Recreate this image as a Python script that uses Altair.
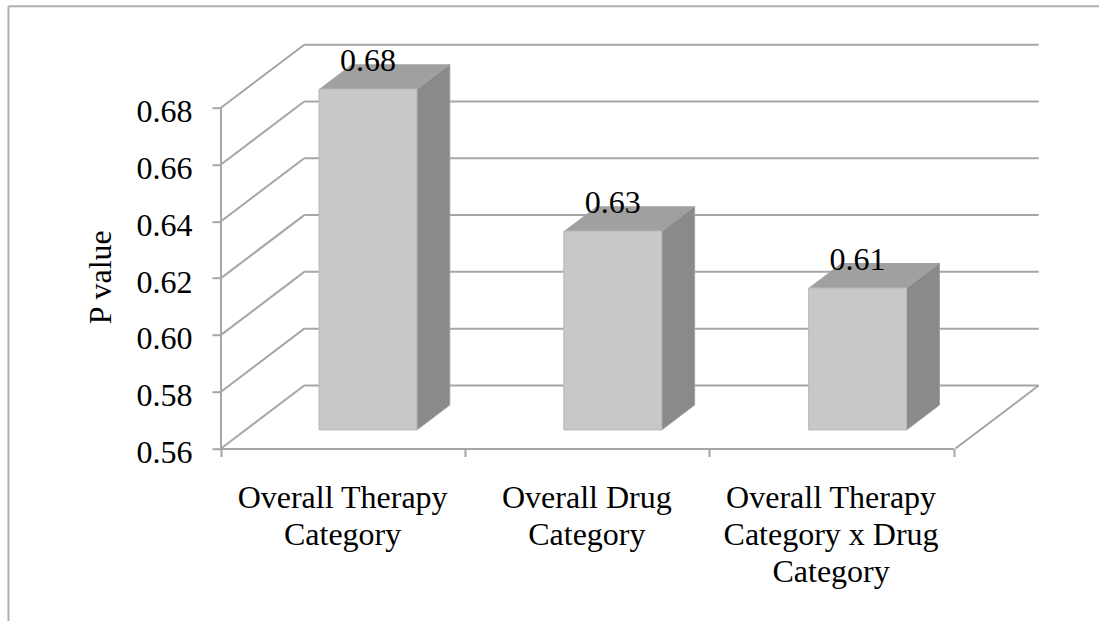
import altair as alt
import pandas as pd

# Chart values
categories = ["Overall Therapy\nCategory", "Overall Drug\nCategory",
              "Overall Therapy\nCategory x Drug\nCategory"]
p_values = [0.68, 0.63, 0.61]
y_ticks = [0.56, 0.58, 0.60, 0.62, 0.64, 0.66, 0.68]

# Oblique projection: moving one full depth unit shifts a point right and up
DEPTH_X = 0.34     # in category widths
DEPTH_Y = 0.0222   # in P value units
BAR_HALF = 0.2
BAR_FRONT, BAR_BACK = 0.295, 0.69
N = len(categories)
Y_BASE, Y_TOP = y_ticks[0], y_ticks[-1]

FONT = "Liberation Serif"
FONT_SIZE = 32
LINE = "#a6a6a6"

# Chart box: back wall, side wall and floor edges
walls = []
for t in y_ticks:
    walls.append(dict(x=DEPTH_X, x2=N + DEPTH_X, y=t + DEPTH_Y, y2=t + DEPTH_Y))
    walls.append(dict(x=0, x2=DEPTH_X, y=t, y2=t + DEPTH_Y))
walls.append(dict(x=N, x2=N + DEPTH_X, y=Y_BASE, y2=Y_BASE + DEPTH_Y))

# Bar faces
front, side, top = [], [], []
for i, v in enumerate(p_values):
    left = i + 0.5 - BAR_HALF + BAR_FRONT * DEPTH_X
    right = i + 0.5 + BAR_HALF + BAR_FRONT * DEPTH_X
    d = (BAR_BACK - BAR_FRONT) * DEPTH_X
    base = Y_BASE + BAR_FRONT * DEPTH_Y
    head = v + BAR_FRONT * DEPTH_Y
    rise = (BAR_BACK - BAR_FRONT) * DEPTH_Y
    front.append(dict(x=left, x2=right, y=base, y2=head,
                      cx=(left + right) / 2, label=f"{v:.2f}"))
    side += [dict(bar=i, x=right, y=head, y2=base),
             dict(bar=i, x=right + d, y=head + rise, y2=base + rise)]
    top += [dict(bar=i, x=left, y=head, y2=head),
            dict(bar=i, x=left + d, y=head + rise, y2=head),
            dict(bar=i, x=right, y=head + rise, y2=head),
            dict(bar=i, x=right + d, y=head + rise, y2=head + rise)]

x_scale = alt.Scale(domain=[0, N + DEPTH_X], nice=False, zero=False)
y_scale = alt.Scale(domain=[Y_BASE, Y_TOP + DEPTH_Y], nice=False, zero=False)
y_axis = alt.Axis(
    values=y_ticks, format=".2f", domain=False, grid=False,
    tickColor=LINE, tickWidth=2, tickSize=9, labelPadding=20, labelOffset=4,
    labelFont=FONT, labelFontSize=FONT_SIZE, labelColor="black",
    title="P value", titleFont=FONT, titleFontSize=FONT_SIZE, titleFontWeight="normal",
    titleColor="black", titleX=-111, titleY=232, titleAlign="center", titleBaseline="alphabetic")
X = alt.X("x:Q", scale=x_scale, axis=None)
Y = alt.Y("y:Q", scale=y_scale, axis=y_axis)

# Outer chart border: only its top and left edges are in view
border = alt.Chart(pd.DataFrame({"a": [0]})).mark_rule(color="#b0b0b0", strokeWidth=2).encode(
    x=alt.value(-212.5), x2=alt.value(880), y=alt.value(-38.5), y2=alt.value(-38.5))
border_left = alt.Chart(pd.DataFrame({"a": [0]})).mark_rule(color="#b0b0b0", strokeWidth=2).encode(
    x=alt.value(-212.5), x2=alt.value(-212.5), y=alt.value(-38.5), y2=alt.value(580))

wall_lines = alt.Chart(pd.DataFrame(walls)).mark_rule(color=LINE, strokeWidth=2).encode(
    x=X, x2="x2:Q", y=Y, y2="y2:Q")

# Value axis line covers only the labelled range
value_line = alt.Chart(pd.DataFrame({"x": [0, 0], "y": [Y_BASE, Y_TOP]})).mark_line(
    color=LINE, strokeWidth=2).encode(x=X, y=Y)

# Category axis: one band per bar, ticks on the band edges
cat_axis = alt.Chart(pd.DataFrame({"category": categories})).mark_point(opacity=0).encode(
    x=alt.X("category:N", sort=categories, title=None,
            scale=alt.Scale(domain=categories, range=[0, 732.7], paddingInner=0, paddingOuter=0),
            axis=alt.Axis(orient="bottom", tickBand="extent", labelAngle=0, labelAlign="center",
                          labelExpr="split(datum.label, '\\n')", labelLineHeight=37,
                          labelFont=FONT, labelFontSize=FONT_SIZE, labelColor="black",
                          labelPadding=26, labelLimit=500, labelOverlap=False, labelBound=False,
                          labelBaseline="top", labelFlush=False, labelOffset=-1,
                          domainColor=LINE, domainWidth=2, tickColor=LINE, tickWidth=2, tickSize=8,
                          grid=False)),
)

side_faces = alt.Chart(pd.DataFrame(side)).mark_area(
    color="#8a8a8a", orient="vertical", stroke="#a0a0a0", strokeWidth=1).encode(
    x=X, y=Y, y2="y2:Q", detail="bar:N")
top_faces = alt.Chart(pd.DataFrame(top)).mark_area(
    color="#a0a0a0", orient="vertical").encode(
    x=X, y=Y, y2="y2:Q", detail="bar:N")
front_faces = alt.Chart(pd.DataFrame(front)).mark_rect(
    color="#c8c8c8", stroke="#b8b8b8", strokeWidth=1).encode(
    x=X, x2="x2:Q", y=Y, y2="y2:Q")
labels = alt.Chart(pd.DataFrame(front)).mark_text(
    font=FONT, fontSize=FONT_SIZE, color="black", baseline="alphabetic", align="center", dy=-18).encode(
    x=alt.X("cx:Q", scale=x_scale, axis=None), y=alt.Y("y2:Q", scale=y_scale, axis=y_axis), text="label:N")

chart = alt.layer(
    border, border_left, wall_lines, value_line, cat_axis,
    side_faces, top_faces, front_faces, labels,
).resolve_scale(x="independent").properties(
    width=817.7, height=403.8,
    padding={"left": 221, "top": 44.7, "right": 60.3, "bottom": 172.5},
    autosize=alt.AutoSizeParams(type="none"),
    background="white",
).configure_view(stroke=None)

chart.save("out.html", embed_options={"renderer": "svg", "actions": False})
